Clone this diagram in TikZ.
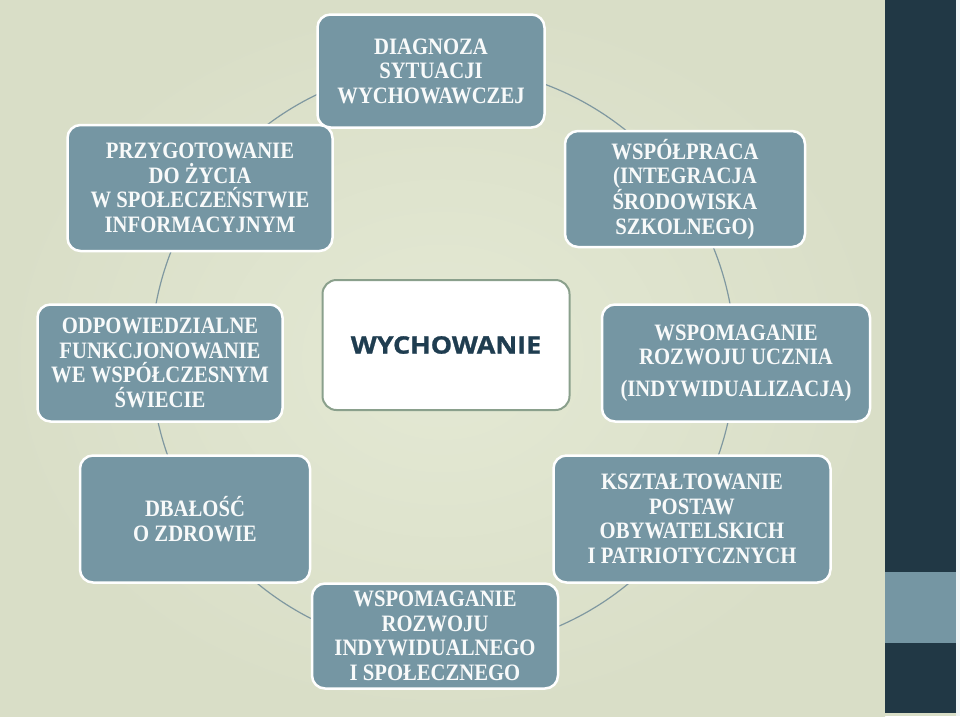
\documentclass[tikz,border=0pt]{standalone}
\usepackage{fontspec}
\setmainfont{Liberation Serif}[FakeStretch=0.88]
\newfontfamily\headfont{Open Sans}[FakeStretch=1.12,BoldFeatures={FakeBold=1.2}]
\usepackage{tikz}
\definecolor{bgin}{HTML}{E4E9D4}
\definecolor{bgout}{HTML}{D9DEC7}
\definecolor{boxfill}{HTML}{7596A3}
\definecolor{band}{HTML}{213845}
\definecolor{ringcol}{HTML}{7F98A0}
\definecolor{centre}{HTML}{8AA08C}
\definecolor{headcol}{HTML}{1F3D50}
\newcommand{\bxfont}{\fontsize{23.5}{24.5}\selectfont\bfseries}

\begin{document}
\begin{tikzpicture}[x=1pt,y=-1pt,
   box/.style={rounded corners=13pt,fill=boxfill,draw=white,line width=2.5pt,
     text=white!95!boxfill,align=center,font=\bxfont,inner sep=0pt},
   ring/.style={draw=ringcol,line width=1.2pt}]
   \useasboundingbox (0,0) rectangle (960,716);
   % background and side band
   \shade[inner color=bgin,outer color=bgout] (0,0) rectangle (885,716);
   \fill[band] (885,0) rectangle (956,713);
   \fill[boxfill] (885,572) rectangle (956,643);
   \fill[white!90!boxfill] (956,0) rectangle (960,716);
   \fill[bgout] (885,713) rectangle (956,716);
   % ring behind the boxes
   \coordinate (ctr) at (443,358);
   \draw[ring] (ctr) circle (292pt);
   % boxes round the ring
   \node[box,minimum width=227pt,minimum height=113pt] (diag) at (431,71)
     {DIAGNOZA\\SYTUACJI\\WYCHOWAWCZEJ};
   \node[box,minimum width=265pt,minimum height=126pt] (przyg) at (200,188)
     {PRZYGOTOWANIE\\DO ŻYCIA\\W SPOŁECZEŃSTWIE\\INFORMACYJNYM};
   \node[box,minimum width=240pt,minimum height=116pt] (wspol) at (685,189)
     {WSPÓŁPRACA\\(INTEGRACJA\\ŚRODOWISKA\\SZKOLNEGO)};
   \node[box,minimum width=245pt,minimum height=117pt] (odpow) at (160,363)
     {ODPOWIEDZIALNE\\FUNKCJONOWANIE\\WE WSPÓŁCZESNYM\\ŚWIECIE};
   \node[box,minimum width=268pt,minimum height=117pt] (uczen) at (736,363)
     {WSPOMAGANIE\\ROZWOJU UCZNIA\\[7pt](INDYWIDUALIZACJA)};
   \node[box,minimum width=230pt,minimum height=127pt] (zdrow) at (195,519)
     {DBAŁOŚĆ\\O ZDROWIE};
   \node[box,minimum width=277pt,minimum height=127pt] (postaw) at (692,519)
     {KSZTAŁTOWANIE\\POSTAW\\OBYWATELSKICH\\I PATRIOTYCZNYCH};
   \node[box,minimum width=246pt,minimum height=105pt] (spol) at (435,636)
     {WSPOMAGANIE\\ROZWOJU\\INDYWIDUALNEGO\\I SPOŁECZNEGO};
   % centre
   \node[rounded corners=14pt,fill=white,draw=centre,line width=2pt,
     minimum width=247pt,minimum height=130pt,text=headcol,
     font=\headfont\bfseries\fontsize{24}{26}\selectfont] (wych) at (446,345)
     {WYCHOWANIE};
\end{tikzpicture}
\end{document}
